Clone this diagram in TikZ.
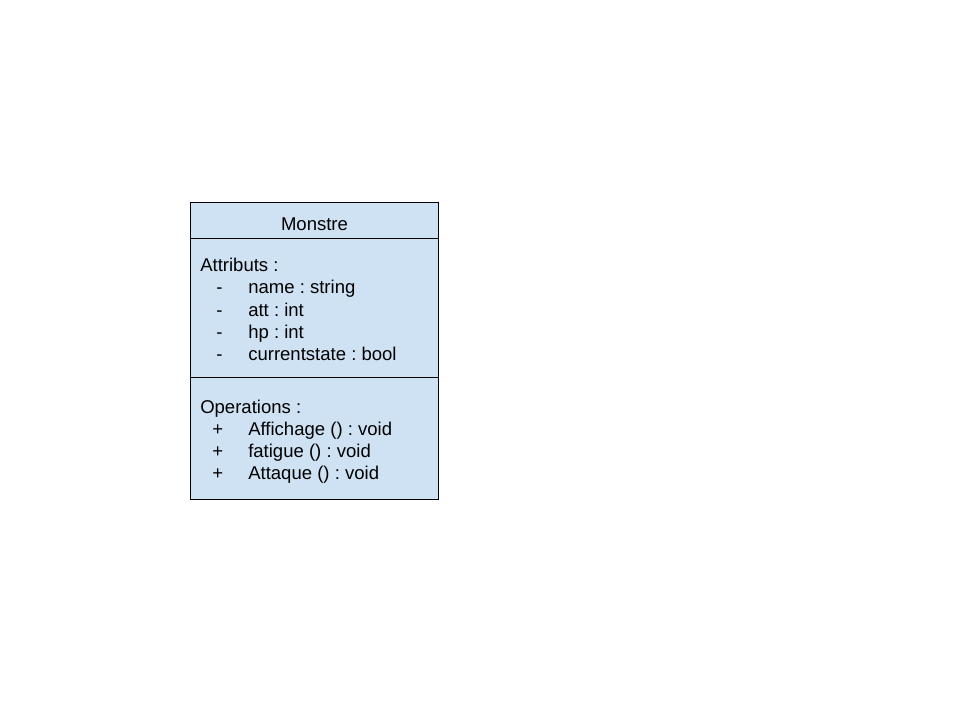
\documentclass[tikz,border=0pt]{standalone}
\usepackage{fontspec}
\setmainfont{Liberation Sans}
\definecolor{classblue}{HTML}{CFE2F3}
\frenchspacing

\begin{document}
\begin{tikzpicture}[x=0.75pt,y=-0.75pt]
            \tikzstyle{every node}+=[inner sep=0pt, font=\fontsize{13.9}{16}\selectfont]
            \tikzstyle{member}=[anchor=base west]
            \useasboundingbox (0,0) rectangle (960,720);
            \draw [black, fill=classblue] (190.5,202.5) rectangle (438.5,499.5);
            \draw [black] (190.5,238.5) -- (438.5,238.5);
            \draw [black] (190.5,377.5) -- (438.5,377.5);
            \node [anchor=base] (title) at (314.5,231) {Monstre};
            \node [member] (attr) at (200,272) {Attributs :};
            \node [member] (a1d) at (216,294) {-};
            \node [member] (a1) at (248,294) {name : string};
            \node [member] (a2d) at (216,316) {-};
            \node [member] (a2) at (248,316) {att : int};
            \node [member] (a3d) at (216,338) {-};
            \node [member] (a3) at (248,338) {hp : int};
            \node [member] (a4d) at (216,360) {-};
            \node [member] (a4) at (248,360) {currentstate : bool};
            \node [member] (ops) at (200,413) {Operations :};
            \node [member] (o1p) at (212,435) {+};
            \node [member] (o1) at (248,435) {Affichage () : void};
            \node [member] (o2p) at (212,457) {+};
            \node [member] (o2) at (248,457) {fatigue () : void};
            \node [member] (o3p) at (212,479) {+};
            \node [member] (o3) at (248,479) {Attaque () : void};
        \end{tikzpicture}
\end{document}
